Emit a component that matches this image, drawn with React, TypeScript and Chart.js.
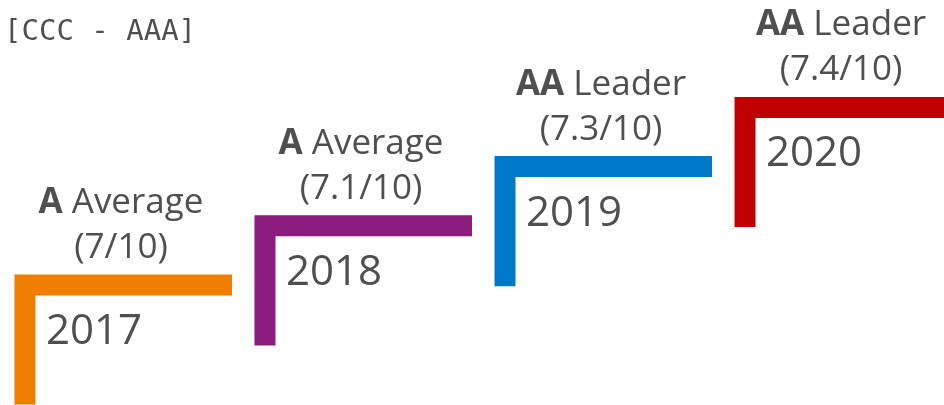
import React, { useEffect, useRef } from "react";
import { Chart, registerables } from "chart.js";

Chart.register(...registerables);

const years = ["2017", "2018", "2019", "2020"];
const ratings = ["A", "A", "AA", "AA"];
const categories = ["Average", "Average", "Leader", "Leader"];
const scores = [7, 7.1, 7.3, 7.4];
const stepLevels = [0, 1, 2, 3];
const stepColors = ["#F07E00", "#8C1C7E", "#0078C8", "#C00000"];
const scaleRangeLabel = "[CCC - AAA]";

const RUN = 0.8625; // horizontal extent of each step (x units)
const DROP = 2.02; // vertical extent of each step (y units)
const TEXT = "#4f4f4f";
const FONT = "'Open Sans', 'Noto Sans', sans-serif";

const labelPlugin = {
  id: "stepLabels",
  afterDatasetsDraw(chart: any) {
    const { ctx, scales } = chart;
    const xs = scales.x;
    const ys = scales.y;
    ctx.save();
    ctx.fillStyle = TEXT;
    ctx.textBaseline = "alphabetic";
    years.forEach((yr, i) => {
      const cx = xs.getPixelForValue(i);
      const cy = ys.getPixelForValue(stepLevels[i]);
      const mid = xs.getPixelForValue(i + 0.4);
      ctx.font = `bold 35px ${FONT}`;
      const r = ratings[i];
      const wr = ctx.measureText(r).width;
      ctx.font = `35px ${FONT}`;
      const c = " " + categories[i];
      const wc = ctx.measureText(c).width;
      const start = mid - (wr + wc) / 2;
      ctx.textAlign = "left";
      ctx.font = `bold 35px ${FONT}`;
      ctx.fillText(r, start, cy - 72);
      ctx.font = `35px ${FONT}`;
      ctx.fillText(c, start + wr, cy - 72);
      ctx.textAlign = "center";
      ctx.fillText(`(${scores[i]}/10)`, mid, cy - 27);
      ctx.textAlign = "left";
      ctx.font = `42px ${FONT}`;
      ctx.fillText(yr, cx + 21, cy + 59);
    });
    ctx.font = `29px 'DejaVu Sans Mono', monospace`;
    ctx.textAlign = "left";
    ctx.fillText(scaleRangeLabel, 4, 40);
    ctx.restore();
  },
};

export default function App() {
  const ref = useRef<HTMLCanvasElement>(null);
  useEffect(() => {
    document.body.style.margin = "0";
    const chart = new Chart(ref.current!, {
      type: "scatter",
      data: {
        datasets: years.map((yr, i) => ({
          label: yr,
          data: [
            { x: i, y: stepLevels[i] - DROP },
            { x: i, y: stepLevels[i] },
            { x: i + RUN, y: stepLevels[i] },
          ],
          showLine: true,
          borderColor: stepColors[i],
          backgroundColor: stepColors[i],
          borderWidth: 21,
          borderJoinStyle: "miter" as const,
          borderCapStyle: "butt" as const,
          pointRadius: 0,
          tension: 0,
          clip: false as any,
        })),
      },
      options: {
        animation: false,
        responsive: true,
        maintainAspectRatio: false,
        layout: { padding: 0 },
        plugins: { legend: { display: false }, tooltip: { enabled: false } },
        scales: {
          x: { type: "linear", min: -0.104, max: 3.829, display: false },
          y: { type: "linear", min: -2.027, max: 4.814, display: false },
        },
      },
      plugins: [labelPlugin],
    });
    return () => chart.destroy();
  }, []);
  return (
    <div style={{ position: "absolute", left: 0, top: 0, width: 944, height: 405, background: "#fff" }}>
      <canvas ref={ref} />
    </div>
  );
}
